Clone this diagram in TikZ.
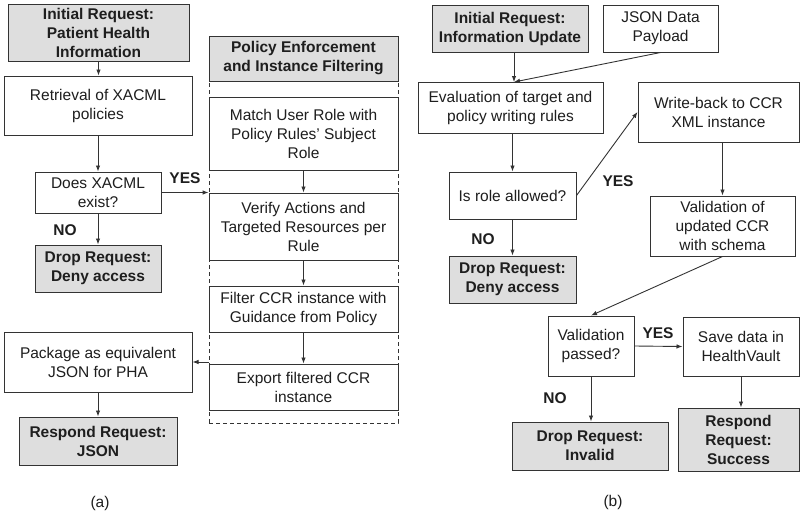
\documentclass[tikz,border=0pt]{standalone}
\usepackage{fontspec}
\setmainfont{Liberation Sans}
\usetikzlibrary{arrows.meta}
\definecolor{edge}{HTML}{333333}
\definecolor{ink}{HTML}{1E1E1E}
\definecolor{shade}{HTML}{DEDEDE}
\tikzset{
  base/.style={draw=edge, line width=1pt, inner sep=0pt, align=center,
    text=ink, font=\fontsize{15.5}{19}\selectfont},
  box/.style={base, fill=white},
  keybox/.style={base, fill=shade, font=\fontsize{15.5}{19}\selectfont\bfseries},
  arr/.style={draw=edge, line width=0.9pt, -{Latex[length=6pt,width=4.5pt]}},
  lbl/.style={inner sep=0pt, text=ink, font=\fontsize{15.5}{19}\selectfont\bfseries},
  captext/.style={inner sep=0pt, text=ink, font=\fontsize{15.5}{19}\selectfont},
}
\begin{document}
\begin{tikzpicture}[x=1pt,y=-1pt]
\useasboundingbox (0,0) rectangle (800,514);

% ---------- (a) read request ----------
\node[draw=edge, line width=0.8pt, dash pattern=on 4pt off 3pt, inner sep=0pt,
      minimum width=189pt, minimum height=387pt] (cont) at (303.5,229.5) {};

\node[keybox, minimum width=181pt, minimum height=57pt] (initA) at (98.5,32.5)
  {Initial Request:\\Patient Health\\Information};
\node[box, minimum width=188pt, minimum height=59pt] (retr) at (98,105.5)
  {Retrieval of XACML\\policies};
\node[box, minimum width=126pt, minimum height=41pt] (exist) at (98,192.5)
  {Does XACML\\exist?};
\node[keybox, minimum width=126pt, minimum height=47pt] (denyA) at (98,268.5)
  {Drop Request:\\Deny access};
\node[box, minimum width=188pt, minimum height=60pt] (pack) at (98,362)
  {Package as equivalent\\JSON for PHA};
\node[keybox, minimum width=158pt, minimum height=48pt] (respA) at (98,441)
  {Respond Request:\\JSON};

\node[keybox, minimum width=189pt, minimum height=45pt] (head) at (303.5,58.5)
  {Policy Enforcement\\and Instance Filtering};
\node[box, minimum width=189pt, minimum height=73pt] (match) at (303.5,133.5)
  {Match User Role with\\Policy Rules' Subject\\Role};
\node[box, minimum width=189pt, minimum height=67pt] (verify) at (303.5,226.5)
  {Verify Actions and\\Targeted Resources per\\Rule};
\node[box, minimum width=189pt, minimum height=46pt] (filter) at (303.5,309)
  {Filter CCR instance with\\Guidance from Policy};
\node[box, minimum width=189pt, minimum height=46pt] (export) at (303.5,387)
  {Export filtered CCR\\instance};

\draw[arr] (initA.south) -- (initA.south |- retr.north);
\draw[arr] (retr.south) -- (exist.north);
\draw[arr] (exist.south) -- (denyA.north);
\draw[arr] (exist.east) -- (exist.east -| cont.west);
\draw[arr] (match.south) -- (verify.north);
\draw[arr] (verify.south) -- (filter.north);
\draw[arr] (filter.south) -- (export.north);
\draw[arr] (pack.east -| cont.west) -- (pack.east);
\draw[arr] (pack.south) -- (respA.north);

\node[lbl] (yesA) at (185,178) {YES};
\node[lbl] (noA) at (65,230) {NO};
\node[captext] (capA) at (100,503) {(a)};

% ---------- (b) update request ----------
\node[keybox, minimum width=156pt, minimum height=47pt] (initB) at (510,28.5)
  {Initial Request:\\Information Update};
\node[box, minimum width=115pt, minimum height=47pt] (json) at (660.5,28.5)
  {JSON Data\\Payload};
\node[box, minimum width=185pt, minimum height=51pt] (eval) at (510.5,107.5)
  {Evaluation of target and\\policy writing rules};
\node[box, minimum width=127pt, minimum height=47pt] (role) at (512.5,195.5)
  {Is role allowed?};
\node[keybox, minimum width=127pt, minimum height=47pt] (denyB) at (512.5,279.5)
  {Drop Request:\\Deny access};
\node[box, minimum width=161pt, minimum height=60pt] (write) at (718.5,112)
  {Write-back to CCR\\XML instance};
\node[box, minimum width=145pt, minimum height=60pt] (valid) at (722.5,226)
  {Validation of\\updated CCR\\with schema};
\node[box, minimum width=86pt, minimum height=60pt] (passed) at (591,346)
  {Validation\\passed?};
\node[box, minimum width=116pt, minimum height=59pt] (save) at (741,346.5)
  {Save data in\\HealthVault};
\node[keybox, minimum width=121pt, minimum height=63pt] (succ) at (738.5,439.5)
  {Respond\\Request:\\Success};
\node[keybox, minimum width=156pt, minimum height=48pt] (invalid) at (590,446)
  {Drop Request:\\Invalid};

\coordinate (evin) at (514,82);
\draw[arr] (initB.south -| evin) -- (evin);
\draw[arr] (json.south) -- (evin);
\draw[arr] (eval.south -| role) -- (role.north);
\draw[arr] (role.east) -- (write.west);
\draw[arr] (role.south) -- (denyB.north);
\draw[arr] (write.south -| valid) -- (valid.north);
\draw[arr] (valid.south) -- (passed.north);
\draw[arr] (passed.east) -- (save.west);
\draw[arr] (save.south) -- (save.south |- succ.north);
\draw[arr] (passed.south) -- (passed.south |- invalid.north);

\node[lbl] (yesB) at (618,181) {YES};
\node[lbl] (noB) at (483,239) {NO};
\node[lbl] (yesC) at (658,333) {YES};
\node[lbl] (noC) at (555,398) {NO};
\node[captext] (capB) at (613,502) {(b)};
\end{tikzpicture}
\end{document}
